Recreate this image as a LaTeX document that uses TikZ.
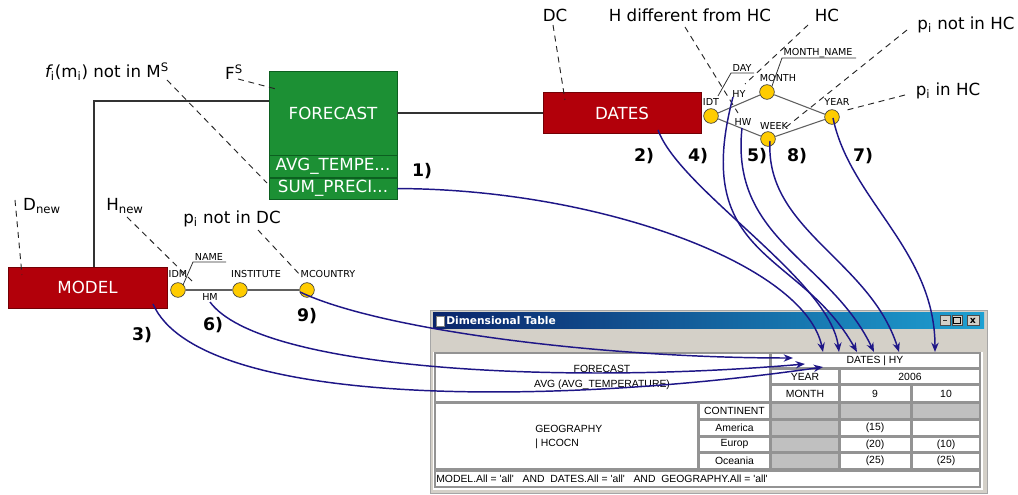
\documentclass[tikz,border=0pt]{standalone}
\usepackage{fontspec}
\setmainfont{DejaVu Sans}
\newfontfamily\tabfont{Liberation Sans}
\usetikzlibrary{arrows.meta,shapes.geometric}
\definecolor{fgreen}{RGB}{28,144,52}
\definecolor{fgreendark}{RGB}{12,95,32}
\definecolor{dred}{RGB}{178,0,10}
\definecolor{dreddark}{RGB}{115,0,5}
\definecolor{ylw}{RGB}{255,204,0}
\definecolor{navyarr}{RGB}{30,22,135}
\definecolor{winbg}{RGB}{212,208,200}
\definecolor{cellgray}{RGB}{192,192,192}
\definecolor{titleL}{RGB}{10,36,106}
\definecolor{titleR}{RGB}{30,160,210}
\begin{document}
\begin{tikzpicture}[x=0.75pt,y=-0.75pt,
  lbl/.style={font=\fontsize{12.5}{14}\selectfont, inner sep=0},
  num/.style={font=\fontsize{13}{15}\selectfont\bfseries, inner sep=0},
  dsh/.style={dash pattern=on 4.5pt off 3.5pt, line width=0.7pt, draw=black!85},
  level/.style={circle, draw=gray!50!black, fill=ylw, minimum size=11pt, inner sep=0, line width=0.5pt},
  small/.style={font=\fontsize{7.2}{8}\selectfont, inner sep=0},
  hline/.style={draw=gray!75!black, line width=0.8pt},
  attr/.style={draw=gray!40!black, line width=0.6pt},
  conn/.style={line width=1.3pt, draw=black!80},
  arr/.style={draw=navyarr, line width=1.1pt, -{Stealth[length=7pt,width=5.5pt]}},
  boxtxt/.style={text=white, font=\fontsize{12.5}{14}\selectfont, inner sep=0},
  cell/.style={draw=gray!85, line width=1pt, fill=white},
  gcell/.style={draw=gray!85, line width=1pt, fill=cellgray},
  ttext/.style={font=\tabfont\fontsize{7.8}{8.5}\selectfont, inner sep=0},
]
\useasboundingbox (0,0) rectangle (1018,495);

% ---------- boxes ----------
\node[boxtxt, fill=fgreen, draw=fgreendark, minimum width=96pt, minimum height=63pt] (forecast) at (333,113) {FORECAST};
\node[boxtxt, fill=fgreen, draw=fgreendark, minimum width=96pt, minimum height=16.5pt, anchor=north] (avg) at (forecast.south) {AVG\_TEMPE...};
\node[boxtxt, fill=fgreen, draw=fgreendark, minimum width=96pt, minimum height=15.75pt, anchor=north] (sum) at (avg.south) {SUM\_PRECI...};
\node[boxtxt, fill=dred, draw=dreddark, minimum width=118.5pt, minimum height=30.75pt] (dates) at (622,113) {DATES};
\node[boxtxt, fill=dred, draw=dreddark, minimum width=119.25pt, minimum height=30.75pt] (model) at (87.5,287.5) {MODEL};

\draw[conn] (forecast.east) -- (dates.west);
\draw[conn] ([yshift=9pt]forecast.west) -| ([xshift=4.9pt]model.north);

% ---------- labels ----------
\node[lbl] (lfm) at (107,72) {{\itshape f}\textsubscript{i}(m\textsubscript{i}) not in M\textsuperscript{S}};
\node[lbl] (lfs) at (234,72) {F\textsuperscript{S}};
\node[lbl] (ldc) at (555,15) {DC};
\node[lbl] (lhd) at (690,15) {H different from HC};
\node[lbl] (lhc) at (827,15) {HC};
\node[lbl] (lpn) at (966,25) {p\textsubscript{i} not in HC};
\node[lbl] (lpi) at (948,91) {p\textsubscript{i} in HC};
\node[lbl] (ldn) at (42,206) {D\textsubscript{new}};
\node[lbl] (lhn) at (125,206) {H\textsubscript{new}};
\node[lbl] (lpd) at (232,219) {p\textsubscript{i} not in DC};

% ---------- DATES hierarchy ----------
\node[level] (idt) at (711,116) {};
\node[level] (month) at (767,92) {};
\node[level] (year) at (832,117) {};
\node[level] (week) at (768,139) {};
\draw[hline] (idt) -- (month) -- (year);
\draw[hline] (idt) -- (week) -- (year);
\node[small] (lidt) at (711,102) {IDT};
\node[small] (lmonth) at (778,78) {MONTH};
\node[small] (lyear) at (837,102) {YEAR};
\node[small] (lweek) at (774,126) {WEEK};
\node[small] (lhy) at (739,94) {HY};
\node[small] (lhw) at (743,122) {HW};
\coordinate (day0) at (718,96);
\coordinate (day1) at (731,73);
\coordinate (day2) at (754,73);
\draw[attr] (day0) -- (day1) -- (day2);
\node[small] (lday) at (742,68.5) {DAY};
\coordinate (mn0) at (772,86);
\coordinate (mn1) at (782,58);
\coordinate (mn2) at (856,58);
\draw[attr] (mn0) -- (mn1) -- (mn2);
\node[small] (lmn) at (818,53) {MONTH\_NAME};

% ---------- MODEL hierarchy ----------
\node[level] (idm) at (178,290) {};
\node[level] (inst) at (240,290) {};
\node[level] (mcountry) at (307,290) {};
\draw[hline] (idm) -- (inst) -- (mcountry);
\node[small] (lidm) at (178,274) {IDM};
\node[small] (linst) at (256,274) {INSTITUTE};
\node[small] (lmc) at (328,274) {MCOUNTRY};
\node[small] (lhm) at (210,297) {HM};
\coordinate (nm0) at (183,285);
\coordinate (nm1) at (193,262);
\coordinate (nm2) at (226,262);
\draw[attr] (nm0) -- (nm1) -- (nm2);
\node[small] (lname) at (209,257) {NAME};

% ---------- dashed pointers ----------
\coordinate (pfs) at (276,89);
\coordinate (pms) at (267,183);
\coordinate (pdc) at (565,100);
\coordinate (phd0) at (685,27);
\coordinate (phd) at (738,113);
\coordinate (phc0) at (808,25);
\coordinate (phc) at (745,84);
\coordinate (ppn0) at (907,30);
\coordinate (ppn) at (785,128);
\coordinate (ppi0) at (905,95);
\coordinate (ppi) at (847,110);
\coordinate (pdn0) at (15,200);
\coordinate (pdn) at (22,275);
\coordinate (phn0) at (127,217);
\coordinate (phn) at (193,282);
\coordinate (ppd0) at (258,230);
\coordinate (ppd) at (302,277);
\coordinate (pfm0) at (167,80);
\coordinate (pfs0) at (238,79);
\coordinate (pdc0) at (553,25);
\draw[dsh] (pfs0) -- (pfs);
\draw[dsh] (pfm0) -- (pms);
\draw[dsh] (pdc0) -- (pdc);
\draw[dsh] (phd0) -- (phd);
\draw[dsh] (phc0) -- (phc);
\draw[dsh] (ppn0) -- (ppn);
\draw[dsh] (ppi0) -- (ppi);
\draw[dsh] (pdn0) -- (pdn);
\draw[dsh] (phn0) -- (phn);
\draw[dsh] (ppd0) -- (ppd);

% ---------- step numbers ----------
\node[num] (n1) at (422,171) {1)};
\node[num] (n2) at (644,156) {2)};
\node[num] (n4) at (698,156) {4)};
\node[num] (n5) at (757,156) {5)};
\node[num] (n8) at (797,156) {8)};
\node[num] (n7) at (863,156) {7)};
\node[num] (n3) at (142,335) {3)};
\node[num] (n6) at (213,325) {6)};
\node[num] (n9) at (307,316) {9)};

% ---------- window ----------
\path[fill=winbg, draw=gray!70] (430,310) rectangle (987,493);
\shade[left color=titleL, right color=titleR] (433,313) rectangle (984,329);
\path[fill=white, draw=gray] (436,316) rectangle (444,326);
\node[anchor=west, text=white, font=\fontsize{8}{9}\selectfont\bfseries, inner sep=0] (wtitle) at (446,321) {Dimensional Table};
\node[draw=black!70, fill=winbg, minimum width=7.5pt, minimum height=7.5pt, inner sep=0, font=\fontsize{6}{6}\selectfont\bfseries] (bmin) at (945,320.5) {\_};
\node[draw=black!70, fill=winbg, minimum width=7.5pt, minimum height=7.5pt, inner sep=0] (bmax) at (957,320.5) {};
\draw[black, line width=0.6pt] (953.5,317.5) rectangle (960.5,323.5);
\node[draw=black!70, fill=winbg, minimum width=9pt, minimum height=7.5pt, inner sep=0, font=\fontsize{7}{7}\selectfont\bfseries] (bclose) at (973,320.5) {x};
\path[fill=white] (433,352) rectangle (983,490);

% cells
\path[cell] (435,353) rectangle (770,402);
\node[ttext] (tforecast) at (602,369) {FORECAST};
\node[ttext] (tavg) at (602,385) {AVG (AVG\_TEMPERATURE)};
\path[cell] (771,353) rectangle (980,368);
\node[ttext] (tdates) at (875,361) {DATES | HY};
\path[cell] (771,369) rectangle (839,384);
\node[ttext] (tyear) at (805,377) {YEAR};
\path[cell] (840,369) rectangle (980,384);
\node[ttext] (t2006) at (910,377) {2006};
\path[cell] (771,385) rectangle (839,402);
\node[ttext] (tmonth) at (805,394) {MONTH};
\path[cell] (840,385) rectangle (911,402);
\node[ttext] (t9) at (875,394) {9};
\path[cell] (912,385) rectangle (980,402);
\node[ttext] (t10) at (946,394) {10};
\path[cell] (435,403) rectangle (698,469);
\node[ttext, anchor=west] (tgeo) at (535,429) {GEOGRAPHY};
\node[ttext, anchor=west] (thc) at (535,444) {| HCOCN};
\path[cell] (699,403) rectangle (770,419);
\node[ttext] (tcont) at (734.5,411) {CONTINENT};
\path[gcell] (771,403) rectangle (839,419);
\path[gcell] (840,403) rectangle (911,419);
\path[gcell] (912,403) rectangle (980,419);
\path[cell] (699,420) rectangle (770,436);
\node[ttext] (tam) at (734.5,428) {America};
\path[gcell] (771,420) rectangle (839,436);
\path[cell] (840,420) rectangle (911,436);
\node[ttext] (t15) at (875,428) {(15)};
\path[cell] (912,420) rectangle (980,436);
\path[cell] (699,437) rectangle (770,452);
\node[ttext] (teu) at (734.5,444.5) {Europ};
\path[gcell] (771,437) rectangle (839,452);
\path[cell] (840,437) rectangle (911,452);
\node[ttext] (t20) at (875,444.5) {(20)};
\path[cell] (912,437) rectangle (980,452);
\node[ttext] (t10b) at (946,444.5) {(10)};
\path[cell] (699,453) rectangle (770,469);
\node[ttext] (toc) at (734.5,461) {Oceania};
\path[gcell] (771,453) rectangle (839,469);
\path[cell] (840,453) rectangle (911,469);
\node[ttext] (t25a) at (875,461) {(25)};
\path[cell] (912,453) rectangle (980,469);
\node[ttext] (t25b) at (946,461) {(25)};
\path[cell] (435,471) rectangle (980,487);
\node[ttext, anchor=west] (tcond) at (436,479) {MODEL.All = 'all'\ \ \ AND\ \ DATES.All = 'all'\ \ \ AND\ \ GEOGRAPHY.All = 'all'};

% ---------- arrows ----------
\coordinate (s2) at (658,130);
\coordinate (s4) at (733,97);
\coordinate (s5) at (742,128);
\coordinate (s8) at (770,141);
\coordinate (s7) at (833,118);
\coordinate (s3) at (153,304);
\coordinate (s6) at (210,302);
\coordinate (s9) at (300,292);
\coordinate (t1) at (823,352);
\coordinate (t2) at (839,352);
\coordinate (t4) at (857,352);
\coordinate (t5) at (874,352);
\coordinate (t8) at (899,352);
\coordinate (t7) at (935,352);
\coordinate (t9) at (793,358);
\coordinate (t6) at (805,364);
\coordinate (t3) at (823,367);
\draw[arr] (sum.east) .. controls (600,189) and (805,265) .. (t1);
\draw[arr] (s2) .. controls (680,190) and (830,280) .. (t2);
\draw[arr] (s4) .. controls (690,260) and (800,250) .. (t4);
\draw[arr] (s5) .. controls (730,240) and (830,260) .. (t5);
\draw[arr] (s8) .. controls (765,230) and (870,260) .. (t8);
\draw[arr] (s7) .. controls (850,200) and (935,250) .. (t7);
\draw[arr] (s9) .. controls (380,330) and (600,358) .. (t9);
\draw[arr] (s6) .. controls (260,370) and (560,385) .. (t6);
\draw[arr] (s3) .. controls (200,410) and (560,405) .. (t3);
\end{tikzpicture}
\end{document}
